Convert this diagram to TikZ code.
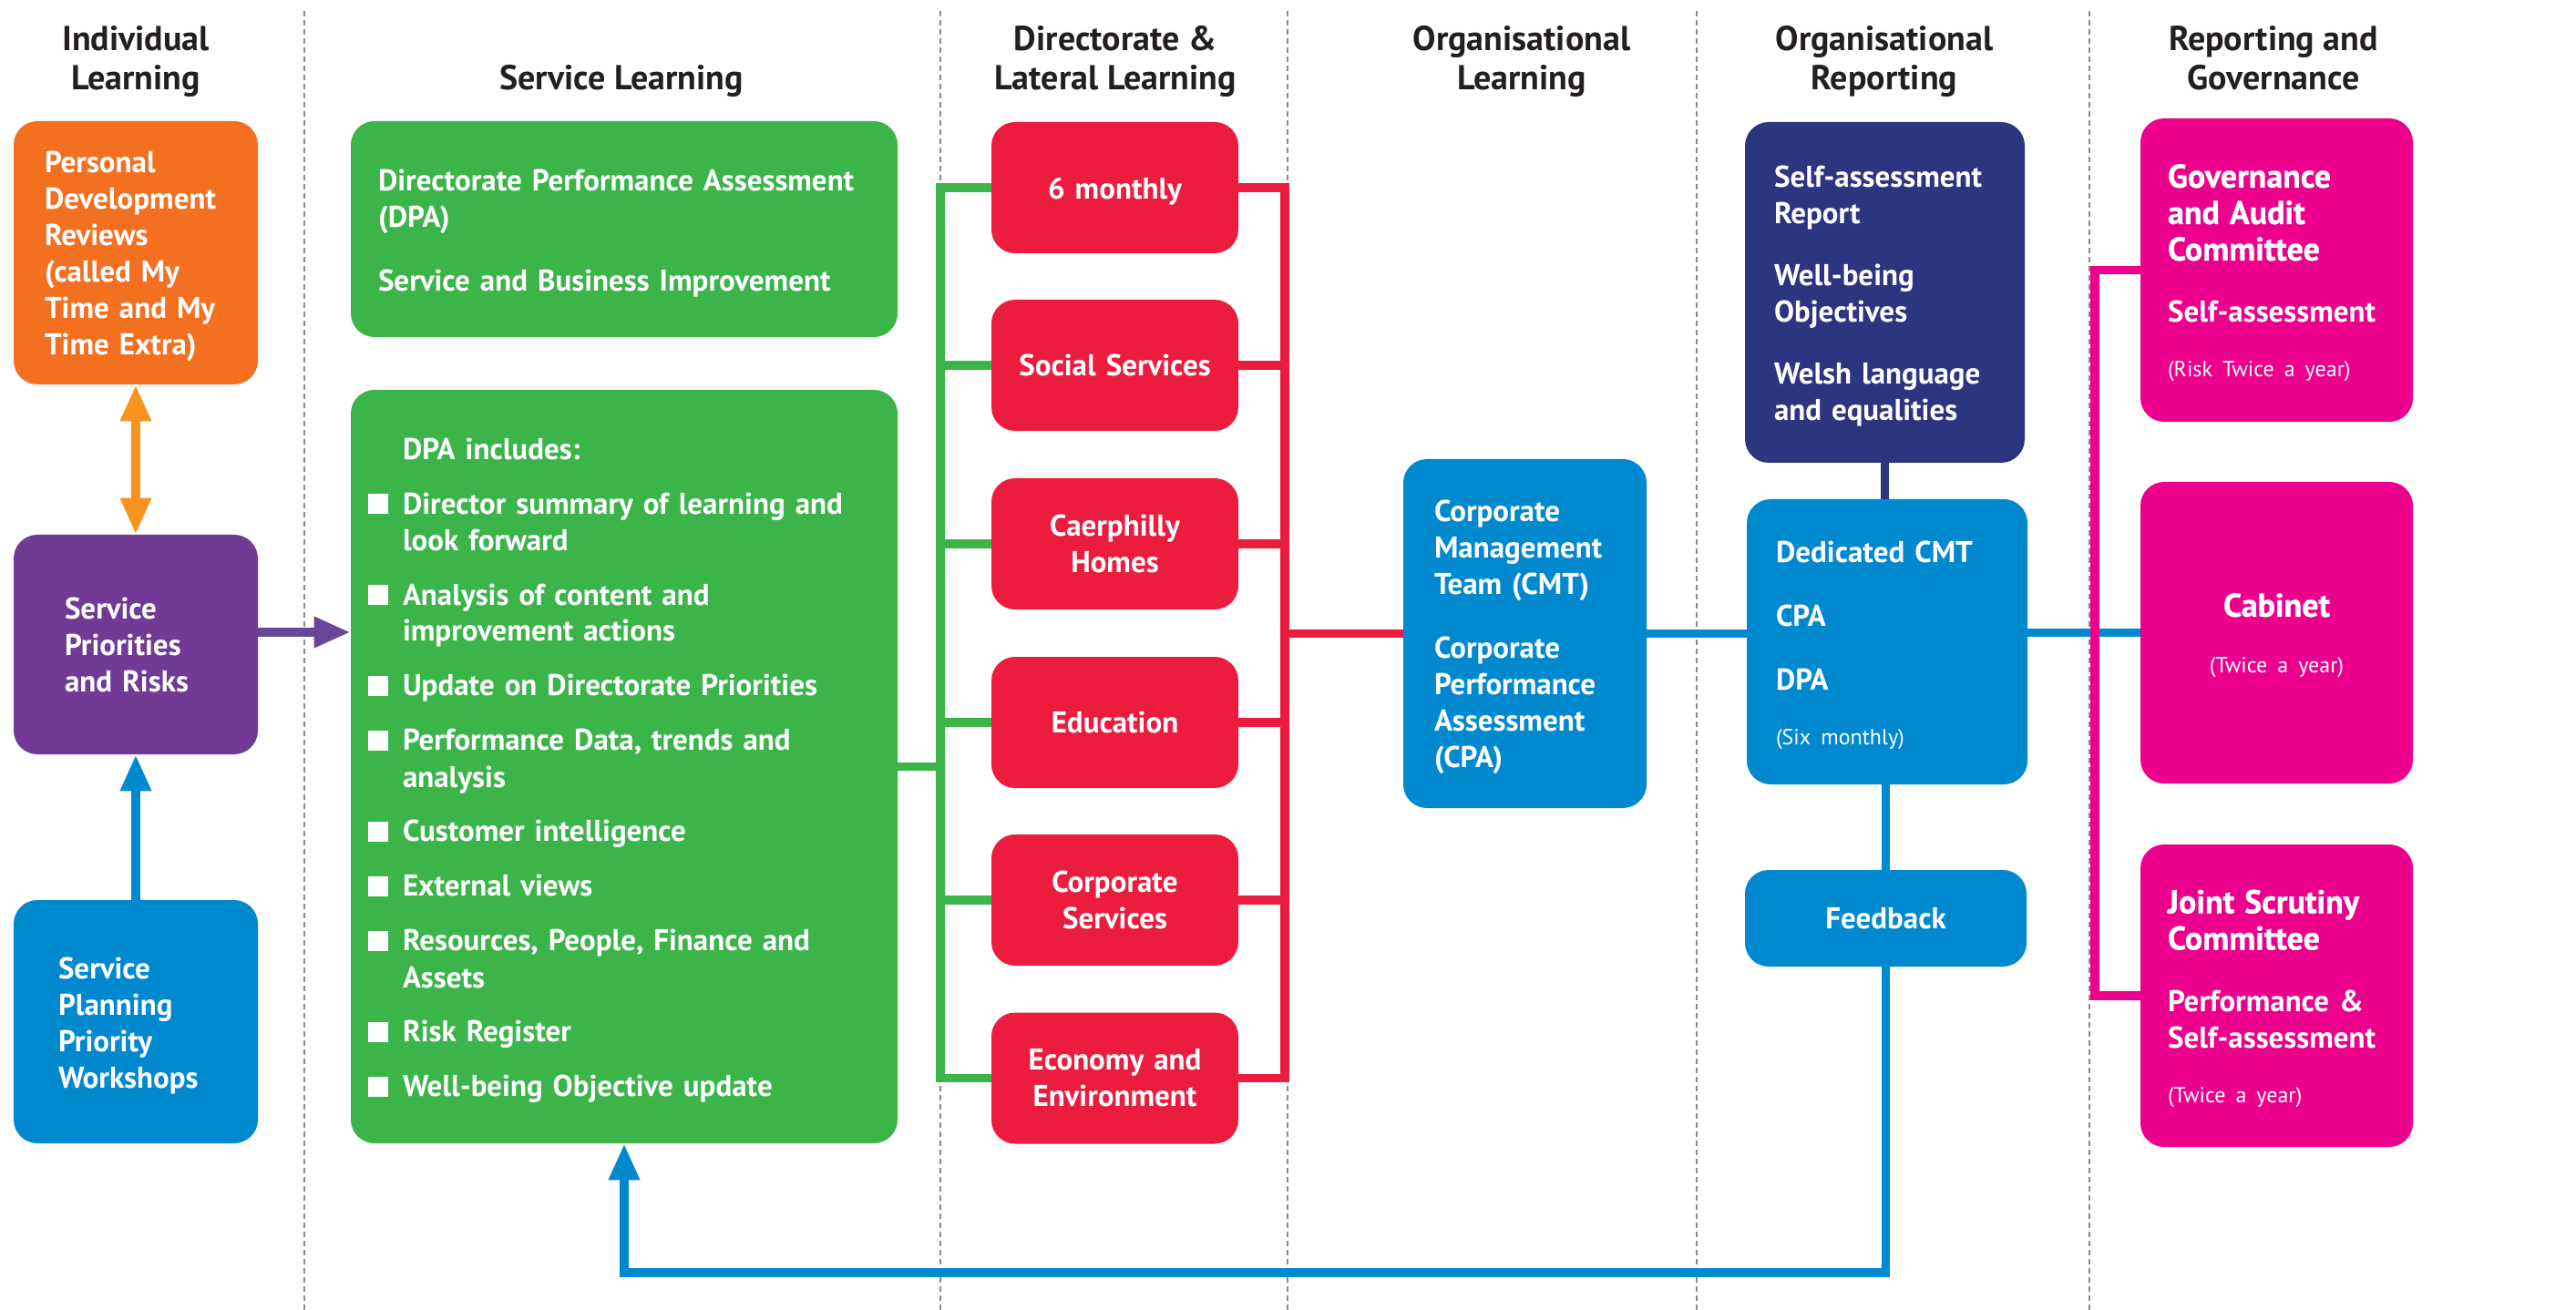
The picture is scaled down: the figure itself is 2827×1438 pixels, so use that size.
\documentclass[tikz,border=0pt]{standalone}
\usepackage{fontspec}
\setmainfont{PT Sans}
\newfontfamily\heavyfont{PT Sans}[FakeBold=1]
\newfontfamily\smallfamily{PT Sans}[WordSpace=0.8]
\usetikzlibrary{arrows.meta}

\definecolor{porange}{HTML}{F37021}
\definecolor{plightorange}{HTML}{F7941D}
\definecolor{ppurple}{HTML}{703A95}
\definecolor{parrowpurple}{HTML}{66479B}
\definecolor{pblue}{HTML}{0089CF}
\definecolor{pgreen}{HTML}{3BB44A}
\definecolor{pred}{HTML}{EC1C3F}
\definecolor{pnavy}{HTML}{2B3580}
\definecolor{pmagenta}{HTML}{EC008C}
\definecolor{headgray}{HTML}{231F20}
\definecolor{sepgray}{HTML}{8A8A8A}

\newcommand\bodyfont{\fontsize{16.5}{20}\selectfont\bfseries}
\newcommand\headfont{\fontsize{19}{21.5}\selectfont\bfseries}
\newcommand\smalltxt{\smallfamily\fontsize{12}{14}\selectfont\mdseries}
\newcommand\heavytxt{\heavyfont\fontsize{18}{20}\selectfont\bfseries}
\newcommand\bul{\makebox[19pt][l]{\rule{11pt}{11pt}}}
\exhyphenpenalty=10000
\hyphenpenalty=10000

\begin{document}
\begin{tikzpicture}[x=0.5pt,y=-0.5pt,
  every node/.style={font=\bodyfont,text=white,inner ysep=0pt},
  box/.style={fill=#1,rounded corners=13pt,align=left},
  cbox/.style={fill=#1,rounded corners=13pt,align=center},
  lowered/.style={execute at begin node={\rule{0pt}{16pt}}},
  head/.style={font=\headfont,text=headgray,align=center,text depth=0pt},
  link/.style={draw=#1,line width=4.8pt},
  pointer/.style={-{Triangle[length=20pt,width=16pt]}},
  divider/.style={draw=sepgray,line width=0.8pt,dash pattern=on 3pt off 2pt}]
\useasboundingbox (0,0) rectangle (2827,1438);

% Column dividers
\draw[divider] (334,12) -- (334,1438);
\draw[divider] (1032,12) -- (1032,1438);
\draw[divider] (1413,12) -- (1413,1438);
\draw[divider] (1862,12) -- (1862,1438);
\draw[divider] (2293,12) -- (2293,1438);

% Column headings
\node[head] (hind) at (149,63.5) {Individual\\Learning};
\node[head] (hserv) at (682,85) {Service Learning};
\node[head] (hdir) at (1224,63.5) {Directorate \&\\Lateral Learning};
\node[head] (horg) at (1670,63.5) {Organisational\\Learning};
\node[head] (hrep) at (2068,63.5) {Organisational\\Reporting};
\node[head] (hgov) at (2495,63.5) {Reporting and\\Governance};

% Individual learning
\node[box=porange,lowered,minimum height=144.5pt,text width=100pt,inner xsep=17pt] (pdr) at (149,277.5)
  {Personal\\Development\\Reviews\\(called My\\Time and My\\Time Extra)};
\node[box=ppurple,minimum height=120.5pt,text width=78pt,inner xsep=28pt] (spr) at (149,707.5)
  {Service\\Priorities\\and Risks};
\node[box=pblue,lowered,minimum height=133.5pt,text width=85pt,inner xsep=24.5pt] (spw) at (149,1121.5)
  {Service\\Planning\\Priority\\Workshops};

% Service learning
\node[box=pgreen,lowered,minimum height=118.5pt,text width=270pt,inner xsep=15pt] (dpa) at (685,251.5)
  {Directorate Performance Assessment\\(DPA)\\[15pt]Service and Business Improvement};
\node[box=pgreen,lowered,minimum height=413.5pt,text width=281pt,inner xsep=9.5pt] (dpainc) at (685,841.5)
  {\hspace*{19pt}DPA includes:\\[10pt]
   \bul Director summary of learning and\\\hspace*{19pt}look forward\\[10pt]
   \bul Analysis of content and\\\hspace*{19pt}improvement actions\\[10pt]
   \bul Update on Directorate Priorities\\[10pt]
   \bul Performance Data, trends and\\\hspace*{19pt}analysis\\[10pt]
   \bul Customer intelligence\\[10pt]
   \bul External views\\[10pt]
   \bul Resources, People, Finance and\\\hspace*{19pt}Assets\\[10pt]
   \bul Risk Register\\[10pt]
   \bul Well-being Objective update};

% Directorate boxes
\node[cbox=pred,lowered,minimum height=72pt,text width=115.5pt,inner xsep=10pt] (m6) at (1223.5,206) {6 monthly};
\node[cbox=pred,minimum height=72pt,text width=115.5pt,inner xsep=10pt] (soc) at (1223.5,401) {Social Services};
\node[cbox=pred,minimum height=72pt,text width=115.5pt,inner xsep=10pt] (chh) at (1223.5,597) {Caerphilly\\Homes};
\node[cbox=pred,minimum height=72pt,text width=115.5pt,inner xsep=10pt] (edu) at (1223.5,793) {Education};
\node[cbox=pred,minimum height=72pt,text width=115.5pt,inner xsep=10pt] (corp) at (1223.5,988) {Corporate\\Services};
\node[cbox=pred,minimum height=72pt,text width=115.5pt,inner xsep=10pt] (econ) at (1223.5,1183.5) {Economy and\\Environment};

% Organisational learning
\node[box=pblue,lowered,minimum height=191.5pt,text width=99.5pt,inner xsep=17pt] (cmt) at (1673.5,695.5)
  {Corporate\\Management\\Team (CMT)\\[15pt]Corporate\\Performance\\Assessment\\(CPA)};

% Organisational reporting
\node[box=pnavy,lowered,minimum height=187pt,text width=121.5pt,inner xsep=16pt] (sar) at (2068.5,321)
  {Self-assessment\\Report\\[14pt]Well-being\\Objectives\\[14pt]Welsh language\\and equalities};
\node[box=pblue,lowered,minimum height=156.5pt,text width=122pt,inner xsep=16pt] (dcmt) at (2071,704.5)
  {Dedicated CMT\\[15pt]CPA\\[15pt]DPA\\[10pt]{\smalltxt (Six monthly)}};
\node[cbox=pblue,minimum height=53pt,text width=134.5pt,inner xsep=10pt] (fb) at (2069.5,1008) {Feedback};

% Reporting and governance
\node[box=pmagenta,lowered,minimum height=166.5pt,text width=119.5pt,inner xsep=15pt] (gov) at (2498.5,296.5)
  {{\heavytxt Governance}\\{\heavytxt and Audit}\\{\heavytxt Committee}\\[14pt]Self-assessment\\[10pt]{\smalltxt (Risk Twice a year)}};
\node[cbox=pmagenta,lowered,minimum height=165.5pt,text width=119.5pt,inner xsep=15pt] (cab) at (2498.5,694.5)
  {{\heavytxt Cabinet}\\[11pt]{\smalltxt (Twice a year)}};
\node[box=pmagenta,lowered,minimum height=166pt,text width=119.5pt,inner xsep=15pt] (jsc) at (2498.5,1093)
  {{\heavytxt Joint Scrutiny}\\{\heavytxt Committee}\\[14pt]Performance \&\\Self-assessment\\[10pt]{\smalltxt (Twice a year)}};

% Trunk positions
\coordinate (gtrunk) at (1032,0);
\coordinate (rtrunk) at (1410,0);
\coordinate (mtrunk) at (2299,0);
\coordinate (fbturn) at (0,1397);

% Left column arrows
\draw[link=plightorange,{Triangle[length=20pt,width=16pt]}-{Triangle[length=20pt,width=16pt]}] (pdr.south) -- (spr.north);
\draw[link=pblue,pointer] (spw.north) -- (spr.south);
\draw[link=parrowpurple,pointer] (spr.east |- 0,694) -- (dpainc.west |- 0,694);

% Green links
\draw[link=pgreen] (m6.west) -- (m6.west -| gtrunk) -- (econ.west -| gtrunk) -- (econ.west);
\draw[link=pgreen] (soc.west) -- (soc.west -| gtrunk);
\draw[link=pgreen] (chh.west) -- (chh.west -| gtrunk);
\draw[link=pgreen] (edu.west) -- (edu.west -| gtrunk);
\draw[link=pgreen] (corp.west) -- (corp.west -| gtrunk);
\draw[link=pgreen] (dpainc.east) -- (dpainc.east -| gtrunk);

% Red links
\draw[link=pred] (m6.east) -- (m6.east -| rtrunk) -- (econ.east -| rtrunk) -- (econ.east);
\draw[link=pred] (soc.east) -- (soc.east -| rtrunk);
\draw[link=pred] (chh.east) -- (chh.east -| rtrunk);
\draw[link=pred] (edu.east) -- (edu.east -| rtrunk);
\draw[link=pred] (corp.east) -- (corp.east -| rtrunk);
\draw[link=pred] (cmt.west) -- (cmt.west -| rtrunk);

% Blue and navy links
\draw[link=pblue] (cmt.east) -- (cmt.east -| dcmt.west);
\draw[link=pblue] (cab.west) -- (cab.west -| dcmt.east);
\draw[link=pnavy] (sar.south) -- (sar.south |- dcmt.north);
\draw[link=pblue] (fb.north |- dcmt.south) -- (fb.north);
\draw[link=pblue,pointer] (fb.south) |- (dpainc.south |- fbturn) -- (dpainc.south);

% Magenta link
\draw[link=pmagenta] (gov.west) -- (gov.west -| mtrunk) -- (jsc.west -| mtrunk) -- (jsc.west);

\end{tikzpicture}
\end{document}
